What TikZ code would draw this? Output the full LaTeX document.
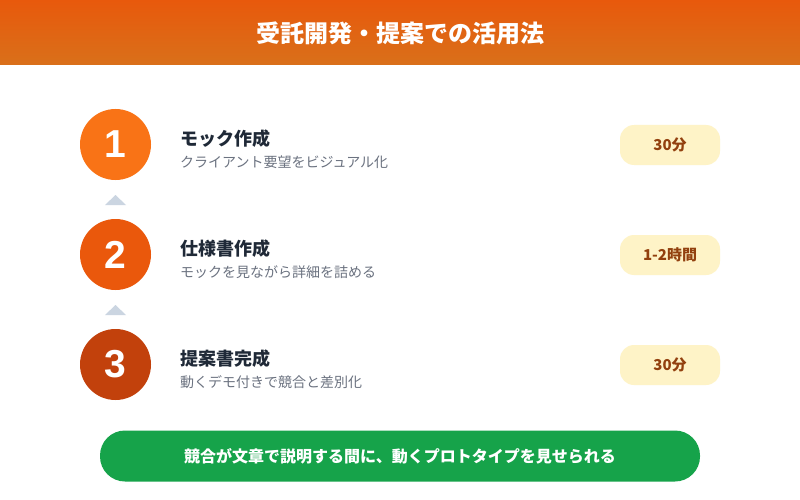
\documentclass[tikz,border=0pt]{standalone}
\usepackage{fontspec}
\setmainfont{Noto Sans CJK JP}
\newfontfamily\numfont{Liberation Sans}
\usetikzlibrary{shapes.geometric}
\definecolor{hdrtop}{HTML}{E8590C}
\definecolor{hdrbot}{HTML}{D9701A}
\definecolor{c1}{HTML}{F97316}
\definecolor{c2}{HTML}{EA580C}
\definecolor{c3}{HTML}{C2410C}
\definecolor{tri}{HTML}{CBD5E1}
\definecolor{ttl}{HTML}{1F2937}
\definecolor{sub}{HTML}{6B7280}
\definecolor{badgebg}{HTML}{FEF3C7}
\definecolor{badgefg}{HTML}{92400E}
\definecolor{green}{HTML}{16A34A}
\tikzset{
  stepcircle/.style={circle, minimum size=71pt, inner sep=0pt, text=white, font=\numfont\fontsize{39}{39}\selectfont\bfseries},
  steptitle/.style={anchor=west, inner sep=0pt, text=ttl, font=\fontsize{18}{18}\selectfont\bfseries},
  stepsub/.style={anchor=west, inner sep=0pt, text=sub, font=\fontsize{14}{14}\selectfont},
  badge/.style={rounded corners=14pt, fill=badgebg, minimum width=100pt, minimum height=40pt, inner sep=0pt, text=badgefg, font=\fontsize{15}{15}\selectfont\bfseries},
  uptri/.style={fill=tri, draw=none}
}
\begin{document}
\begin{tikzpicture}[x=1pt,y=-1pt]
\useasboundingbox (0,0) rectangle (800,500);
\fill[white] (0,0) rectangle (800,500);
\shade[top color=hdrtop, bottom color=hdrbot] (0,0) rectangle (800,65);
\node[text=white, font=\fontsize{24}{24}\selectfont\bfseries] (title) at (400,33) {受託開発・提案での活用法};

\node[stepcircle, fill=c1] (s1) at (115.5,144.5) {1};
\node[stepcircle, fill=c2] (s2) at (115.5,254.5) {2};
\node[stepcircle, fill=c3] (s3) at (115.5,364.5) {3};

\fill[uptri] (105,205) -- (115.5,195) -- (126,205) -- cycle;
\fill[uptri] (105,315) -- (115.5,305) -- (126,315) -- cycle;

\node[steptitle] (t1) at (180,139) {モック作成};
\node[stepsub] (d1) at (180,162) {クライアント要望をビジュアル化};
\node[steptitle] (t2) at (180,249) {仕様書作成};
\node[stepsub] (d2) at (180,272) {モックを見ながら詳細を詰める};
\node[steptitle] (t3) at (180,359) {提案書完成};
\node[stepsub] (d3) at (180,382) {動くデモ付きで競合と差別化};

\node[badge] (b1) at (670,145) {30分};
\node[badge] (b2) at (670,255) {1-2時間};
\node[badge] (b3) at (670,365) {30分};

\node[rounded corners=25pt, fill=green, minimum width=600pt, minimum height=51pt, inner sep=0pt, text=white, font=\fontsize{16}{16}\selectfont\bfseries] (bar) at (400,456) {競合が文章で説明する間に、動くプロトタイプを見せられる};
\end{tikzpicture}
\end{document}
